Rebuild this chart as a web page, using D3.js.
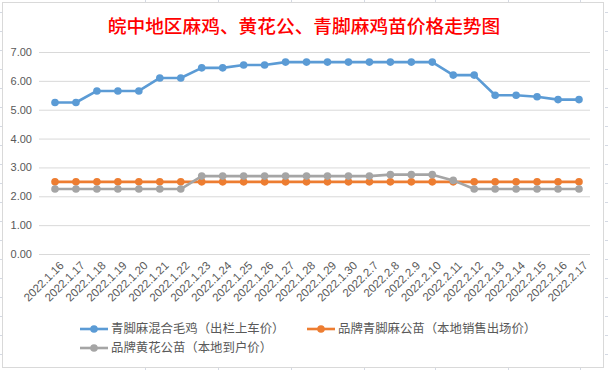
<!DOCTYPE html>
<html>
<head>
<meta charset="utf-8">
<script src="https://cdn.jsdelivr.net/npm/d3@7"></script>
<style>
  body { margin: 0; background: #fff; }
  svg { display: block; }
</style>
</head>
<body>
<div id="chart"></div>
<script>
// chart data
const dates = [
  "2022.1.16", "2022.1.17", "2022.1.18", "2022.1.19", "2022.1.20", "2022.1.21",
  "2022.1.22", "2022.1.23", "2022.1.24", "2022.1.25", "2022.1.26", "2022.1.27",
  "2022.1.28", "2022.1.29", "2022.1.30", "2022.2.7", "2022.2.8", "2022.2.9",
  "2022.2.10", "2022.2.11", "2022.2.12", "2022.2.13", "2022.2.14", "2022.2.15",
  "2022.2.16", "2022.2.17"
];
const mixedChicken = [
  5.25, 5.25, 5.65, 5.65, 5.65, 6.10, 6.10, 6.45, 6.45, 6.55, 6.55, 6.65, 6.65,
  6.65, 6.65, 6.65, 6.65, 6.65, 6.65, 6.20, 6.20, 5.50, 5.50, 5.45, 5.35, 5.35
];
const qingjiaoChick = [
  2.50, 2.50, 2.50, 2.50, 2.50, 2.50, 2.50, 2.50, 2.50, 2.50, 2.50, 2.50, 2.50,
  2.50, 2.50, 2.50, 2.50, 2.50, 2.50, 2.50, 2.50, 2.50, 2.50, 2.50, 2.50, 2.50
];
const huanghuaChick = [
  2.25, 2.25, 2.25, 2.25, 2.25, 2.25, 2.25, 2.70, 2.70, 2.70, 2.70, 2.70, 2.70,
  2.70, 2.70, 2.70, 2.75, 2.75, 2.75, 2.55, 2.25, 2.25, 2.25, 2.25, 2.25, 2.25
];
const yTicks = [0, 1, 2, 3, 4, 5, 6, 7];

const series = [
  { name: "青脚麻混合毛鸡（出栏上车价）", values: mixedChicken, color: "#5b9bd5" },
  { name: "品牌青脚麻公苗（本地销售出场价）", values: qingjiaoChick, color: "#ed7d31" },
  { name: "品牌黄花公苗（本地到户价）", values: huanghuaChick, color: "#a5a5a5" },
];

const W = 608, H = 370;
const svg = d3.select("#chart").append("svg").attr("width", W).attr("height", H);

// spreadsheet grid showing around the chart
const sheet = svg.append("g").attr("stroke", "#d4d9e3").attr("stroke-width", 1);
[145, 218, 291, 364, 435, 508, 580].forEach((x) => {
  sheet.append("line").attr("x1", x + 0.5).attr("x2", x + 0.5).attr("y1", 0).attr("y2", 2);
  sheet.append("line").attr("x1", x + 0.5).attr("x2", x + 0.5).attr("y1", 368).attr("y2", H);
});
d3.range(12, H, 19).forEach((y) => {
  sheet.append("line").attr("x1", 605).attr("x2", W).attr("y1", y + 0.5).attr("y2", y + 0.5);
  sheet.append("line").attr("x1", 0).attr("x2", 2).attr("y1", y + 0.5).attr("y2", y + 0.5);
});

// chart frame
svg.append("rect")
  .attr("x", 2.5).attr("y", 2.5).attr("width", 601).attr("height", 365)
  .attr("fill", "#fff").attr("stroke", "#d9d9d9");

svg.append("text")
  .attr("x", 304).attr("y", 33)
  .attr("text-anchor", "middle")
  .attr("font-family", "'Noto Sans CJK SC'")
  .attr("font-size", 18.7)
  .attr("font-weight", 500)
  .attr("fill", "#ff0000")
  .text("皖中地区麻鸡、黄花公、青脚麻鸡苗价格走势图");

const x = d3.scalePoint().domain(dates).range([55, 579]);
const y = d3.scaleLinear().domain([0, 7]).range([254, 52]);

// gridlines + y labels
const yAxis = svg.append("g")
  .attr("transform", "translate(39,0)")
  .call(d3.axisLeft(y).tickValues(yTicks).tickFormat(d3.format(".2f")).tickSize(-551).tickPadding(7));
yAxis.select(".domain").remove();
yAxis.selectAll(".tick line").attr("stroke", "#d9d9d9");
yAxis.selectAll(".tick text")
  .attr("fill", "#595959")
  .attr("font-family", "'Liberation Sans', Arial, sans-serif")
  .attr("font-size", 11);

// x labels, rotated
const xAxis = svg.append("g")
  .attr("transform", "translate(0,254)")
  .call(d3.axisBottom(x).tickSize(0));
xAxis.select(".domain").remove();
xAxis.selectAll(".tick text")
  .attr("fill", "#595959")
  .attr("font-family", "'Liberation Sans', Arial, sans-serif")
  .attr("font-size", 11.5)
  .attr("text-anchor", "end")
  .attr("dy", 0)
  .attr("transform", "translate(7,10) rotate(-45)");

const line = d3.line().x((d, i) => x(dates[i])).y((d) => y(d));

series.forEach((s) => {
  const g = svg.append("g");
  g.append("path")
    .datum(s.values)
    .attr("d", line)
    .attr("fill", "none")
    .attr("stroke", s.color)
    .attr("stroke-width", 2.6)
    .attr("stroke-linejoin", "round");
  g.selectAll("circle")
    .data(s.values)
    .join("circle")
    .attr("cx", (d, i) => x(dates[i]))
    .attr("cy", (d) => y(d))
    .attr("r", 3.8)
    .attr("fill", s.color);
});

// legend
const legendPos = [[80, 329], [307, 329], [80, 348]];
series.forEach((s, i) => {
  const [lx, ly] = legendPos[i];
  const g = svg.append("g").attr("transform", `translate(${lx},${ly})`);
  g.append("line").attr("x1", 0).attr("x2", 28).attr("y1", 0).attr("y2", 0)
    .attr("stroke", s.color).attr("stroke-width", 2.6);
  g.append("circle").attr("cx", 14).attr("cy", 0).attr("r", 3.8).attr("fill", s.color);
  g.append("text")
    .attr("x", 31).attr("y", 0).attr("dy", "0.35em")
    .attr("font-family", "'Noto Sans CJK SC'")
    .attr("font-size", 12.4)
    .attr("fill", "#595959")
    .text(s.name);
});
</script>
</body>
</html>
